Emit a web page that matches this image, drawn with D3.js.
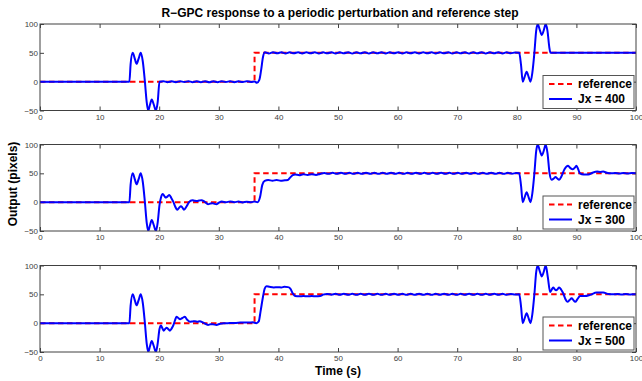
<!DOCTYPE html>
<html>
	<head>
		<meta charset="utf-8">
		<style>
			body { margin: 0; background: #fff; }
			svg { display: block; font-family: "Liberation Sans", Arial, Helvetica, sans-serif; }
			.tick text { font-size: 8px; fill: #404040; }
			.tick line { stroke: #404040; }
		</style>
	</head>
	<body>
		<script src="https://cdn.jsdelivr.net/npm/d3@7"></script>

		<div id="canvas"></div>

		<script>
				var width = 642;
				var height = 381;

				var timeTicks = [0, 10, 20, 30, 40, 50, 60, 70, 80, 90, 100];
				var outputTicks = [-50, 0, 50, 100];
				var jxLabels = ["Jx = 400", "Jx = 300", "Jx = 500"];

				// reference step
				var referenceSignal = [[0, 0], [36, 0], [36, 50], [100, 50]];

				// output, [time, pixels]
				var responseJx400 = [
					[0, 0], [15, 0], [15.2, 30], [15.55, 50], [15.9, 40], [16.2, 31], [16.55, 40], [16.9, 50], [17.25, 35], [17.6, 0],
					[17.9, -35], [18.15, -50], [18.45, -40], [18.75, -31], [19.1, -40], [19.45, -50], [19.75, -35], [20.05, 0],
					[20.7, 0.8], [21.4, -0.8], [22.1, 0.6], [22.8, -0.8], [23.5, 0.8], [24.2, -0.6], [24.9, 0.8], [25.6, -0.8], [26.3, 0.6],
					[27.0, -0.8], [27.7, 0.8], [28.4, -1], [29.1, 0.6], [29.8, -0.8], [30.5, 0.8], [31.2, -0.6], [31.9, 0.8], [32.6, -0.8],
					[33.3, 0.6], [34.0, -0.6], [34.7, 0.8], [35.4, -0.4], [36.0, 0.4], [36.4, -2], [36.8, 3], [37.1, 20], [37.4, 42], [37.75, 51],
					[38.4, 49], [39.1, 51], [39.8, 49.1], [40.5, 51.1], [41.2, 48.9], [41.9, 50.9], [42.6, 49.1], [43.3, 51],
					[44.0, 49], [44.7, 50.9], [45.4, 49.1], [46.1, 51], [46.8, 48.9], [47.5, 50.9], [48.2, 49.1], [48.9, 51],
					[49.6, 49], [50.3, 50.9], [51.0, 49.1], [51.7, 51], [52.4, 48.9], [53.1, 50.9], [53.8, 49.1], [54.5, 51],
					[55.2, 49], [55.9, 50.9], [56.6, 49.1], [57.3, 51], [58.0, 49], [58.7, 50.9], [59.4, 49.1], [60.1, 51],
					[60.8, 48.9], [61.5, 50.9], [62.2, 49.1], [62.9, 51], [63.6, 49], [64.3, 50.9], [65.0, 49.1], [65.7, 51],
					[66.4, 49], [67.1, 50.9], [67.8, 49.1], [68.5, 51], [69.2, 48.9], [69.9, 50.9], [70.6, 49.1], [71.3, 51],
					[72.0, 49], [72.7, 50.9], [73.4, 49.1], [74.1, 51], [74.8, 49], [75.5, 50.9], [76.2, 49.1], [76.9, 51],
					[77.6, 48.9], [78.3, 50.8], [79.0, 49.2], [79.7, 50.6], [80.4, 50],
					[80.7, 30], [81.0, 0], [81.3, 8], [81.65, 17], [82.0, 8], [82.3, 0], [82.6, 15], [82.95, 50], [83.25, 88], [83.5, 100],
					[83.85, 90], [84.2, 81], [84.55, 90], [84.85, 100], [85.15, 88], [85.45, 60], [85.65, 50], [100, 50]
				];

				var responseJx300 = [
					[0, 0], [15, 0], [15.2, 30], [15.55, 50], [15.9, 40], [16.2, 31], [16.55, 40], [16.9, 50], [17.25, 35], [17.6, 0],
					[17.9, -35], [18.15, -50], [18.45, -40], [18.75, -31], [19.1, -40], [19.45, -50], [19.75, -35], [20.05, -5],
					[20.3, 8], [20.6, 14], [20.9, 10], [21.15, 8], [21.45, 10.5], [21.7, 12.5], [22.05, 7], [22.4, 0], [22.7, -8],
					[23.0, -13], [23.35, -9.5], [23.65, -7], [23.9, -9.5], [24.15, -13], [24.6, -7], [25.0, 0], [25.55, 3.5],
					[25.95, 2.5], [26.3, 2], [26.7, 2.8], [27.1, 3.5], [27.6, 1], [28.2, -3.5], [28.6, -2.5], [29.0, -2], [29.3, -3],
					[29.6, -3.5], [30.0, -1], [30.5, 1], [31.2, -0.3], [31.9, 1.2], [32.6, 0], [33.3, 1], [34.0, -0.4], [34.7, 0.8],
					[35.4, 0], [36.0, 1], [36.5, 0], [36.9, 8], [37.3, 30], [37.7, 37], [38.3, 38.5], [39.0, 37], [39.7, 38.5],
					[40.4, 37], [41.1, 38], [41.6, 38.5], [42.0, 43], [42.4, 47], [42.8, 48], [43.5, 46.8], [44.2, 48.5], [44.9, 47],
					[45.6, 48.5], [46.3, 47.3], [47.0, 49], [47.7, 50.5], [48.4, 49.2], [49.1, 50.8], [49.8, 49.2], [50.5, 50.9], [51.2, 49.2],
					[51.9, 50.8], [52.6, 49.1], [53.3, 50.8], [54.0, 49.2], [54.7, 50.9], [55.4, 49.2], [56.1, 50.8], [56.8, 49.1], [57.5, 50.8],
					[58.2, 49.2], [58.9, 50.9], [59.6, 49.2], [60.3, 50.8], [61.0, 49.1], [61.7, 50.8], [62.4, 49.2], [63.1, 50.9], [63.8, 49.2],
					[64.5, 50.8], [65.2, 49.1], [65.9, 50.8], [66.6, 49.2], [67.3, 50.9], [68.0, 49.2], [68.7, 50.8], [69.4, 49.1], [70.1, 50.8],
					[70.8, 49.2], [71.5, 50.9], [72.2, 49.2], [72.9, 50.8], [73.6, 49.1], [74.3, 50.8], [75.0, 49.2], [75.7, 50.9], [76.4, 49.2],
					[77.1, 50.8], [77.8, 49.1], [78.5, 50.8], [79.2, 49.3], [79.9, 50.6], [80.4, 50],
					[80.7, 30], [81.0, 0], [81.3, 8], [81.65, 17], [82.0, 8], [82.3, 0], [82.6, 15], [82.95, 50], [83.25, 88], [83.5, 100],
					[83.85, 90], [84.2, 81], [84.55, 90], [84.85, 100], [85.15, 85], [85.5, 50], [85.85, 39], [86.2, 41], [86.5, 43.5],
					[86.8, 41], [87.1, 39], [87.5, 45], [88.0, 57], [88.6, 63], [89.0, 59], [89.35, 57], [89.7, 59.5], [90.0, 63],
					[90.3, 57], [90.6, 50], [91.2, 48], [92.0, 48], [92.7, 51], [93.5, 53], [94.0, 52.5], [94.5, 53], [95.1, 51],
					[95.8, 50], [96.5, 50.6], [97.2, 49.6], [97.9, 50.4], [98.6, 49.6], [99.3, 50.4], [100, 50]
				];

				var responseJx500 = [
					[0, 0], [15, 0], [15.2, 30], [15.55, 50], [15.9, 40], [16.2, 31], [16.55, 40], [16.9, 50], [17.25, 35], [17.6, 0],
					[17.9, -35], [18.15, -50], [18.45, -40], [18.75, -31], [19.1, -40], [19.45, -50], [19.75, -35], [20.05, -10],
					[20.3, -4], [20.5, -8], [20.75, -13], [21.0, -10], [21.25, -8], [21.5, -10], [21.8, -13], [22.1, -9], [22.4, -3],
					[22.65, 5], [22.9, 11], [23.2, 9], [23.5, 7], [23.9, 9], [24.3, 11], [24.7, 6], [25.2, 2.5], [25.6, 3], [26.0, 3.5],
					[26.4, 2.5], [26.8, 3.5], [27.4, 1], [28.2, -3], [28.6, -2], [29.0, -2], [29.6, -3], [30.2, -1], [30.8, 0],
					[31.5, 0], [32.2, 0.5], [32.9, 0.5], [33.6, 1], [34.3, 1], [35.0, 1], [35.7, 1.5], [36.3, 0], [36.7, 3], [37.0, 20],
					[37.4, 45], [37.7, 60], [38.0, 64], [38.5, 63], [39.2, 62], [39.9, 62.5], [40.5, 62], [41.0, 63], [41.6, 62.5],
					[42.0, 60], [42.4, 52], [42.8, 47], [43.5, 46.5], [44.2, 47], [44.9, 46.5], [45.6, 47], [46.3, 46.5], [47.0, 47],
					[47.5, 49.5], [48.2, 50.7], [48.9, 49.3], [49.6, 50.8], [50.3, 49.2], [51.0, 50.9], [51.7, 49.2], [52.4, 50.8], [53.1, 49.1],
					[53.8, 50.8], [54.5, 49.2], [55.2, 50.9], [55.9, 49.2], [56.6, 50.8], [57.3, 49.1], [58.0, 50.8], [58.7, 49.2], [59.4, 50.9],
					[60.1, 49.2], [60.8, 50.8], [61.5, 49.1], [62.2, 50.8], [62.9, 49.2], [63.6, 50.9], [64.3, 49.2], [65.0, 50.8], [65.7, 49.1],
					[66.4, 50.8], [67.1, 49.2], [67.8, 50.9], [68.5, 49.2], [69.2, 50.8], [69.9, 49.1], [70.6, 50.8], [71.3, 49.2], [72.0, 50.9],
					[72.7, 49.2], [73.4, 50.8], [74.1, 49.1], [74.8, 50.8], [75.5, 49.2], [76.2, 50.9], [76.9, 49.2], [77.6, 50.8], [78.3, 49.2],
					[79.0, 50.7], [79.7, 49.6], [80.4, 50],
					[80.7, 30], [81.0, 0], [81.3, 8], [81.65, 17], [82.0, 8], [82.3, 0], [82.6, 15], [82.95, 50], [83.25, 88], [83.5, 100],
					[83.85, 90], [84.2, 81], [84.55, 90], [84.85, 100], [85.2, 80], [85.6, 54], [85.85, 58], [86.1, 62], [86.35, 59],
					[86.6, 57], [86.85, 59], [87.1, 62], [87.45, 58], [87.8, 51.5], [88.15, 42], [88.5, 37], [88.85, 40], [89.2, 43],
					[89.5, 40], [89.8, 37], [90.2, 42], [90.6, 47], [91.4, 47], [92.3, 49], [93.4, 53], [94.5, 53], [95.4, 50.5],
					[96.2, 50], [96.9, 50.6], [97.6, 49.6], [98.3, 50.4], [99.0, 49.6], [99.7, 50.3], [100, 50]
				];

				var responses = [responseJx400, responseJx300, responseJx500];

				var plotLeft = 40;
				var plotRight = 636;
				var panelTops = [24, 144.5, 265.5];
				var panelHeight = 86.5;

				var canvas_svg = d3.select("#canvas")
					.append("svg")
					.attr("width", width)
					.attr("height", height)
					.attr("id", "canvas_svg");

				var x = d3.scaleLinear().domain([0, 100]).range([plotLeft, plotRight]);

				canvas_svg.append("text")
					.attr("x", 340)
					.attr("y", 17)
					.attr("text-anchor", "middle")
					.style("font-size", "12px")
					.style("font-weight", "bold")
					.text("R\u2212GPC response to a periodic perturbation and reference step");

				canvas_svg.append("text")
					.attr("transform", "translate(17,184) rotate(-90)")
					.attr("text-anchor", "middle")
					.style("font-size", "12px")
					.style("font-weight", "bold")
					.text("Output (pixels)");

				// sits just under the tick labels of the last panel
				canvas_svg.append("text")
					.attr("x", 338)
					.attr("y", 375)
					.attr("text-anchor", "middle")
					.style("font-size", "12px")
					.style("font-weight", "bold")
					.text("Time (s)");

				responses.forEach(function (series, i) {
					var top = panelTops[i];
					var bottom = top + panelHeight;
					var y = d3.scaleLinear().domain([-50, 100]).range([bottom, top]);

					var panel = canvas_svg.append("g").attr("class", "panel");

					panel.append("clipPath")
						.attr("id", "clip" + i)
						.append("rect")
						.attr("x", plotLeft)
						.attr("y", top)
						.attr("width", plotRight - plotLeft)
						.attr("height", panelHeight);

					panel.append("g")
						.attr("transform", "translate(0," + bottom + ")")
						.call(d3.axisBottom(x).tickValues(timeTicks).tickSizeInner(-4).tickSizeOuter(0).tickPadding(3.5))
						.call(function (g) { g.select(".domain").remove(); });
					panel.append("g")
						.attr("transform", "translate(0," + top + ")")
						.call(d3.axisTop(x).tickValues(timeTicks).tickSizeInner(-4).tickSizeOuter(0).tickFormat(""))
						.call(function (g) { g.select(".domain").remove(); });
					panel.append("g")
						.attr("transform", "translate(" + plotLeft + ",0)")
						.call(d3.axisLeft(y).tickValues(outputTicks).tickSizeInner(-4).tickSizeOuter(0).tickPadding(2))
						.call(function (g) { g.select(".domain").remove(); });
					panel.append("g")
						.attr("transform", "translate(" + plotRight + ",0)")
						.call(d3.axisRight(y).tickValues(outputTicks).tickSizeInner(-4).tickSizeOuter(0).tickFormat(""))
						.call(function (g) { g.select(".domain").remove(); });

					var lines = panel.append("g").attr("clip-path", "url(#clip" + i + ")");

					lines.append("path")
						.datum(referenceSignal)
						.attr("fill", "none")
						.attr("stroke", "#ff0000")
						.attr("stroke-width", 2)
						.attr("stroke-dasharray", "5.5,3.5")
						.attr("d", d3.line().x(function (d) { return x(d[0]); }).y(function (d) { return y(d[1]); }));

					lines.append("path")
						.datum(series)
						.attr("fill", "none")
						.attr("stroke", "#0000ff")
						.attr("stroke-width", 2)
						.attr("stroke-linejoin", "round")
						.attr("d", d3.line()
							.x(function (d) { return x(d[0]); })
							.y(function (d) { return y(d[1]); })
							.curve(d3.curveMonotoneX));

					panel.append("rect")
						.attr("x", plotLeft)
						.attr("y", top)
						.attr("width", plotRight - plotLeft)
						.attr("height", panelHeight)
						.attr("fill", "none")
						.attr("stroke", "#404040")
						.attr("stroke-width", 1);

					// legend
					var legend = panel.append("g")
						.attr("transform", "translate(" + (plotRight - 93) + "," + (bottom - 35) + ")");
					legend.append("rect")
						.attr("width", 91)
						.attr("height", 33)
						.attr("fill", "#fff")
						.attr("stroke", "#555")
						.attr("stroke-width", 1);
					legend.append("line")
						.attr("x1", 6).attr("x2", 29).attr("y1", 8.5).attr("y2", 8.5)
						.attr("stroke", "#ff0000")
						.attr("stroke-width", 2)
						.attr("stroke-dasharray", "5.5,3.5");
					legend.append("line")
						.attr("x1", 6).attr("x2", 29).attr("y1", 23.5).attr("y2", 23.5)
						.attr("stroke", "#0000ff")
						.attr("stroke-width", 2);
					legend.append("text")
						.attr("x", 35).attr("y", 12.8)
						.style("font-size", "12px")
						.style("font-weight", "bold")
						.text("reference");
					legend.append("text")
						.attr("x", 35).attr("y", 27.8)
						.style("font-size", "12px")
						.style("font-weight", "bold")
						.text(jxLabels[i]);
				});
		</script>
	</body>
</html>
